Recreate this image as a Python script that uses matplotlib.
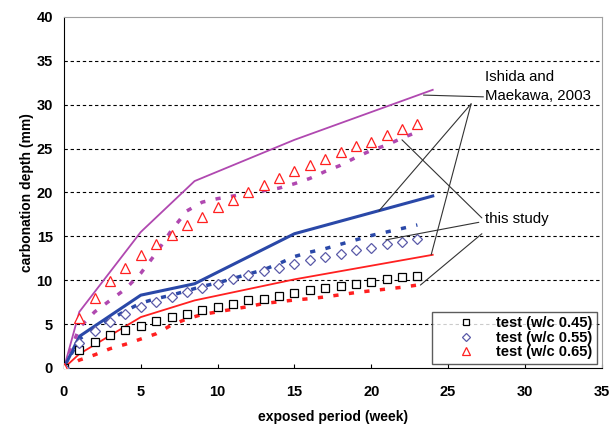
import numpy as np
import matplotlib
matplotlib.use('Agg')
import matplotlib.pyplot as plt

plt.rcParams['font.family'] = ['Liberation Sans', 'DejaVu Sans']

# test data (weeks)
wk = [0, 1, 2, 3, 4, 5, 6, 7, 8, 9, 10, 11, 12, 13, 14, 15, 16, 17, 18, 19, 20, 21, 22, 23]
test_45 = [0, 2.1, 3.0, 3.8, 4.3, 4.8, 5.4, 5.85, 6.1, 6.6, 6.9, 7.3, 7.7, 7.9, 8.2,
           8.5, 8.9, 9.1, 9.4, 9.6, 9.8, 10.1, 10.4, 10.5]
test_55 = [0, 2.9, 4.25, 5.2, 6.1, 6.9, 7.55, 8.05, 8.7, 9.15, 9.6, 10.1, 10.6, 11.05, 11.4,
           11.9, 12.25, 12.7, 13.0, 13.4, 13.7, 14.1, 14.4, 14.65]
test_65 = [0, 5.65, 8.0, 9.9, 11.4, 12.9, 14.1, 15.2, 16.3, 17.25, 18.3, 19.1, 20.0, 20.8, 21.6,
           22.4, 23.15, 23.8, 24.6, 25.3, 25.8, 26.5, 27.2, 27.8]

# Ishida and Maekawa, 2003
ish_x = [0, 1, 5, 8.5, 15, 24]
ish_45 = [0, 1.6, 5.8, 7.7, 10.1, 12.9]
ish_55 = [0, 3.6, 8.3, 9.6, 15.3, 19.6]
ish_65 = [0, 6.4, 15.5, 21.3, 26.0, 31.7]

# this study
st_45 = [0, 0.9, 1.5, 2.2, 2.7, 3.3, 3.9, 4.9, 5.6, 6.1, 6.4, 6.7, 7.0, 7.35, 7.55,
         7.75, 7.9, 8.1, 8.35, 8.6, 8.8, 9.0, 9.2, 9.45]
st_55 = [0, 3.3, 4.5, 5.5, 6.5, 7.4, 7.9, 8.3, 8.8, 9.3, 9.7, 10.2, 10.7, 11.2, 11.9,
         12.7, 13.2, 13.6, 14.1, 14.6, 15.1, 15.5, 15.9, 16.3]
st_65 = [0, 4.6, 6.4, 7.7, 9.0, 10.8, 13.1, 15.7, 17.9, 18.9, 19.3, 19.6, 19.9, 20.2, 20.5,
         21.0, 21.6, 22.4, 23.1, 24.0, 24.8, 25.4, 26.2, 26.9]

purple = '#b048b0'
blue = '#2a48a8'
red = '#ff2020'

fig = plt.figure(figsize=(6.14, 4.30), dpi=100)
ax = fig.add_axes([0.1042, 0.1442, 0.8758, 0.8163])

ax.set_xlim(0, 35)
ax.set_ylim(0, 40)
for yv in range(5, 40, 5):
    ax.axhline(yv, color='black', lw=0.8, ls=(0, (3, 2.5)), zorder=0)

ax.plot(ish_x, ish_65, color=purple, lw=1.3, zorder=2)
ax.plot(ish_x, ish_55, color=blue, lw=2.2, zorder=2)
ax.plot(ish_x, ish_45, color=red, lw=1.3, zorder=2)

ds = (0, (1.5, 3.0))
ax.plot(wk, st_65, color=purple, lw=2.5, ls=ds, zorder=2)
ax.plot(wk, st_55, color=blue, lw=2.5, ls=ds, zorder=2)
ax.plot(wk, st_45, color=red, lw=2.5, ls=ds, zorder=2)

ax.plot(wk, test_45, ls='none', marker='s', ms=6, mfc='white', mec='black', mew=0.9,
        label='test (w/c 0.45)', zorder=3)
ax.plot(wk, test_55, ls='none', marker='D', ms=5.5, mfc='white', mec='#5a5aa8', mew=0.9,
        label='test (w/c 0.55)', zorder=3)
ax.plot(wk, test_65, ls='none', marker='^', ms=7, mfc='white', mec=red, mew=0.9,
        label='test (w/c 0.65)', zorder=3)

lk = dict(arrowstyle='-', color='#333333', lw=0.8, shrinkA=0, shrinkB=0)
ax.annotate('', xy=(23.4, 31.1), xytext=(27.3, 30.9), arrowprops=lk)
ax.annotate('', xy=(20.5, 17.9), xytext=(26.5, 30.1), arrowprops=lk)
ax.annotate('', xy=(23.9, 12.9), xytext=(26.5, 30.1), arrowprops=lk)
ax.text(27.4, 32.1, 'Ishida and\nMaekawa, 2003', fontsize=10.8, va='center', ha='left',
        linespacing=1.45)

ax.annotate('', xy=(22.0, 26.0), xytext=(27.2, 17.1), arrowprops=lk)
ax.annotate('', xy=(20.95, 14.6), xytext=(27.0, 16.6), arrowprops=lk)
ax.annotate('', xy=(23.2, 9.45), xytext=(27.2, 15.3), arrowprops=lk)
ax.text(27.4, 17.0, 'this study', fontsize=10.8, va='center', ha='left')

leg = ax.legend(loc='lower right', bbox_to_anchor=(0.9907, 0.012), frameon=True, fancybox=False,
                prop={'weight': 'bold', 'size': 10.5}, handletextpad=0.0, borderpad=0.3,
                labelspacing=0.05, handlelength=4.1, borderaxespad=0, markerscale=0.8)
leg.get_frame().set_edgecolor('#333333')
leg.get_frame().set_linewidth(1.0)

ax.set_xticks(range(0, 36, 5))
ax.set_yticks(range(0, 41, 5))
ax.tick_params(axis='x', direction='in', length=3, pad=12, labelsize=10.5)
ax.tick_params(axis='y', length=0, pad=8, labelsize=10.5)
for lab in ax.get_xticklabels() + ax.get_yticklabels():
    lab.set_fontweight('bold')

ax.set_xlabel('exposed period (week)', fontsize=10, fontweight='bold', labelpad=8)
ax.set_ylabel('carbonation depth (mm)', fontsize=10, fontweight='bold', labelpad=2)

ax.spines['left'].set_color('black')
ax.spines['bottom'].set_color('black')
ax.spines['top'].set_color('#a0a0a0')
ax.spines['right'].set_color('#a0a0a0')

fig.savefig('out.png', dpi=100)
